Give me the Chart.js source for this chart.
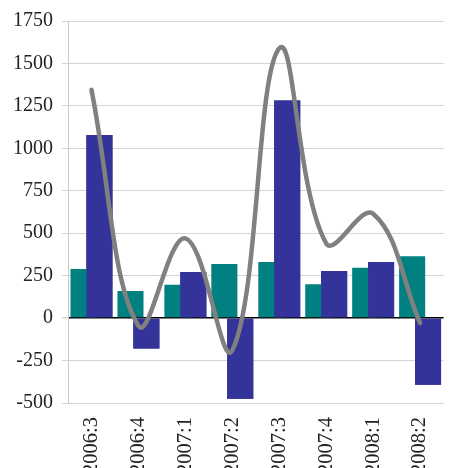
<!DOCTYPE html>
<html>
<head>
<meta charset="utf-8">
<script src="https://cdn.jsdelivr.net/npm/chart.js@4"></script>
<style>
  html, body { margin: 0; padding: 0; background: #fff; }
  #wrap { width: 451px; height: 468px; }
</style>
</head>
<body>
<div id="wrap"><canvas id="chart"></canvas></div>
<script>
// data
const categories = ['2006:3', '2006:4', '2007:1', '2007:2', '2007:3', '2007:4', '2008:1', '2008:2'];
const tealValues = [290, 160, 196, 319, 331, 200, 297, 365];
const blueValues = [1078, -179, 272, -475, 1282, 278, 331, -392];
const lineValues = [1345, -45, 470, -190, 1590, 440, 615, -30];
const yTicks = [-500, -250, 0, 250, 500, 750, 1000, 1250, 1500, 1750];

const serif = "'Liberation Serif', 'DejaVu Serif', serif";

// blue bars sit over the teal ones but under the line
const blueOnTop = {
    id: 'blueOnTop',
    afterDatasetDraw(chart, args) {
        if (args.index === 0) {
            chart.getDatasetMeta(1).controller.draw();
        }
    }
};

document.addEventListener('DOMContentLoaded', () => {
    new Chart(document.getElementById('chart'), {
        data: {
            labels: categories,
            datasets: [{
                type: 'bar',
                data: tealValues,
                backgroundColor: '#008080',
                categoryPercentage: 0.677,
                barPercentage: 1.64,
                order: 1
            }, {
                type: 'bar',
                data: blueValues,
                backgroundColor: '#333399',
                categoryPercentage: 0.677,
                barPercentage: 1.64,
                order: 2
            }, {
                type: 'line',
                data: lineValues,
                borderColor: '#808080',
                borderWidth: 4.5,
                borderCapStyle: 'round',
                pointRadius: 0,
                tension: 0.4,
                fill: false,
                order: 0
            }]
        },
        options: {
            responsive: true,
            maintainAspectRatio: false,
            animation: false,
            layout: { padding: { top: 20, left: 0, right: 5, bottom: 0 } },
            plugins: {
                legend: { display: false },
                tooltip: { enabled: false }
            },
            scales: {
                x: {
                    grid: { display: false },
                    border: { display: false },
                    ticks: {
                        minRotation: 90,
                        maxRotation: 90,
                        autoSkip: false,
                        padding: 6,
                        color: '#222',
                        font: { family: serif, size: 20.5 }
                    },
                    afterFit: (s) => { s.height = 65; }
                },
                y: {
                    min: -500,
                    max: 1750,
                    afterBuildTicks: (s) => { s.ticks = yTicks.map(v => ({ value: v })); },
                    grid: {
                        color: (c) => c.tick && c.tick.value === 0 ? '#000' : '#d4d4d4',
                        tickColor: '#d4d4d4',
                        tickLength: 6,
                        lineWidth: (c) => c.tick && c.tick.value === 0 ? 1.5 : 1
                    },
                    border: { color: '#c8c8c8' },
                    ticks: {
                        padding: 9,
                        color: '#222',
                        font: { family: serif, size: 20 },
                        callback: (v) => String(v)
                    },
                    afterFit: (s) => { s.width = 68; }
                }
            }
        },
        plugins: [blueOnTop]
    });
});
</script>
</body>
</html>
